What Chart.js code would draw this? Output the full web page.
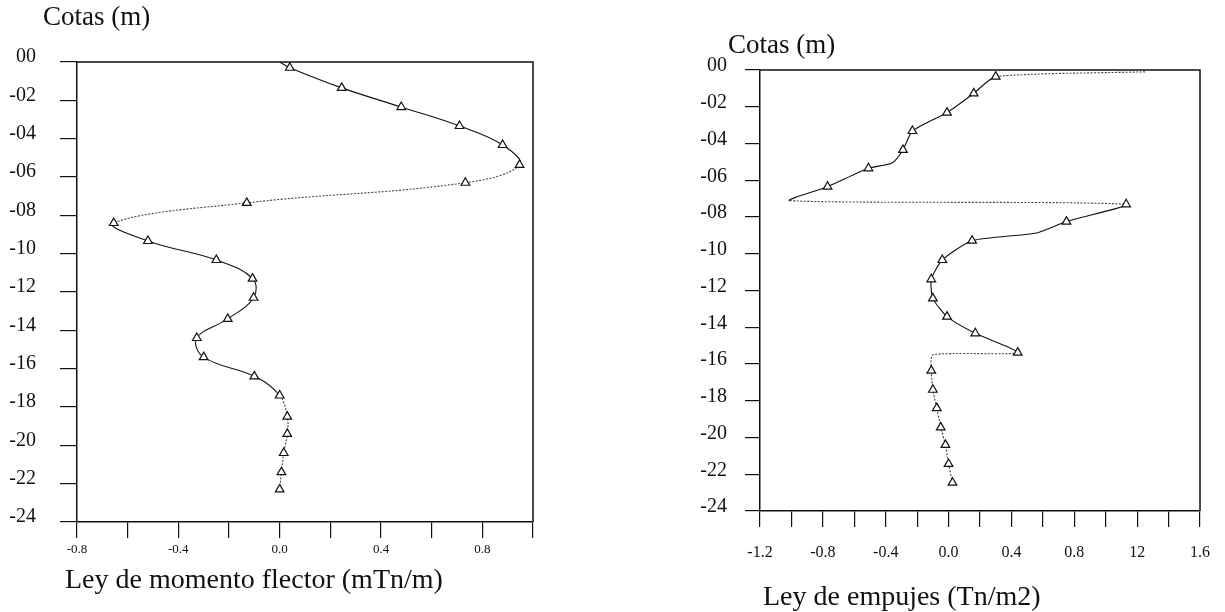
<!DOCTYPE html>
<html>
<head>
<meta charset="utf-8">
<script src="https://cdn.jsdelivr.net/npm/chart.js@4/dist/chart.umd.min.js"></script>
<style>
  html, body { margin: 0; padding: 0; background: #fff; }
  body { width: 1225px; height: 612px; position: relative; overflow: hidden; font-family: 'Liberation Serif', 'DejaVu Serif', serif; color: #111; }
  .box { position: absolute; top: 0; }
  .txt { position: absolute; white-space: nowrap; line-height: 1; color: #111; }
</style>
</head>
<body>
<div class="box" style="left:0;width:600px;height:612px"><canvas id="c1" width="600" height="612"></canvas></div>
<div class="box" style="left:600px;width:625px;height:612px"><canvas id="c2" width="625" height="612"></canvas></div>
<div class="txt" style="left:43px;top:3px;font-size:27px">Cotas (m)</div>
<div class="txt" style="left:65px;top:565px;font-size:28px">Ley de momento flector (mTn/m)</div>
<div class="txt" style="left:728px;top:31px;font-size:27px">Cotas (m)</div>
<div class="txt" style="left:763px;top:582px;font-size:28px">Ley de empujes (Tn/m2)</div>
<script>
// ---- Data: Ley de momento flector ----
const momentoValor = [0.0, 0.04, 0.245, 0.48, 0.71, 0.88, 0.947, 0.733, -0.13, -0.655, -0.52, -0.25, -0.107, -0.103, -0.205, -0.327, -0.30, -0.10, 0.0, 0.03, 0.03, 0.016, 0.007, 0.0];
const momentoCota  = [0, -0.3, -1.35, -2.35, -3.34, -4.33, -5.37, -6.3, -7.35, -8.4, -9.34, -10.33, -11.3, -12.3, -13.4, -14.4, -15.4, -16.4, -17.4, -18.5, -19.4, -20.4, -21.4, -22.3];
const momentoSinMarca = [0];

// ---- Data: Ley de empujes ----
const empujeValor = [1.25, 0.30, 0.16, -0.01, -0.23, -0.29, -0.36, -0.51, -0.77, -1.01, 1.13, 0.75, 0.56, 0.15, -0.04, -0.11, -0.10, -0.01, 0.17, 0.44, -0.10, -0.11, -0.10, -0.075, -0.05, -0.02, 0.0, 0.025];
const empujeCota  = [-0.1, -0.36, -1.27, -2.32, -3.32, -4.35, -5.06, -5.35, -6.35, -7.11, -7.31, -8.25, -8.87, -9.29, -10.34, -11.39, -12.43, -13.42, -14.33, -15.38, -15.5, -16.36, -17.4, -18.4, -19.45, -20.4, -21.44, -22.46];
const empujeSinMarca = [0, 6, 9, 12, 20];

// ---- Tick labels ----
const cotaTicks = [0, -2, -4, -6, -8, -10, -12, -14, -16, -18, -20, -22, -24];
const cotaTickLabels = ['00', '-02', '-04', '-06', '-08', '-10', '-12', '-14', '-16', '-18', '-20', '-22', '-24'];
const momentoXLabels = ['-0.8', '-0.4', '0.0', '0.4', '0.8'];
const empujeXLabels = ['-1.2', '-0.8', '-0.4', '0.0', '0.4', '0.8', '12', '1.6'];

// style: segments drawn dotted (by start index)
const momentoPunteado = [6, 7, 8, 18, 19, 20, 21, 22];
const empujePunteado = [0, 9, 19, 20, 21, 22, 23, 24, 25, 26];

const INK = '#111';
const FONT = "'Liberation Serif', 'DejaVu Serif', serif";

const framePlugin = {
  id: 'frame',
  beforeDatasetsDraw(chart) {
    const a = chart.chartArea, ctx = chart.ctx;
    ctx.save();
    ctx.strokeStyle = INK;
    ctx.lineWidth = 1.5;
    ctx.beginPath();
    ctx.moveTo(a.left, a.top);
    ctx.lineTo(a.right, a.top);
    ctx.lineTo(a.right, a.bottom);
    ctx.stroke();
    ctx.restore();
  }
};

function cotaLabel(v) {
  const i = cotaTicks.indexOf(Math.round(v));
  return i >= 0 ? cotaTickLabels[i] : '';
}

function makeChart(id, values, cotas, sinMarca, punteado, cfg) {
  const pts = values.map((v, i) => ({ x: v, y: cotas[i] }));
  return new Chart(document.getElementById(id), {
    type: 'scatter',
    data: {
      datasets: [{
        data: pts,
        showLine: true,
        borderColor: INK,
        borderWidth: 1.1,
        tension: cfg.tension,
        fill: false,
        clip: false,
        pointStyle: 'triangle',
        pointRadius: ctx => sinMarca.includes(ctx.dataIndex) ? 0 : 5,
        pointBorderColor: INK,
        pointBackgroundColor: '#fff',
        pointBorderWidth: 1.2,
        segment: {
          borderDash: ctx => punteado.includes(ctx.p0DataIndex) ? [2, 1.5] : undefined,
          borderColor: ctx => punteado.includes(ctx.p0DataIndex) ? '#444' : INK
        }
      }]
    },
    options: {
      responsive: false,
      animation: false,
      events: [],
      layout: { padding: cfg.padding },
      plugins: { legend: { display: false }, tooltip: { enabled: false }, title: { display: false } },
      scales: {
        x: {
          type: 'linear',
          position: 'bottom',
          min: cfg.xMin, max: cfg.xMax,
          border: { display: true, color: INK, width: 1.5 },
          grid: { display: true, drawOnChartArea: false, drawTicks: true, tickLength: cfg.xTickLen, color: INK, lineWidth: 1.2 },
          ticks: {
            stepSize: 0.2,
            autoSkip: false,
            maxRotation: 0,
            padding: cfg.xPad,
            color: INK,
            font: { family: FONT, size: cfg.xFont },
            callback: (v, i) => (i % 2 === 0 && cfg.xLabels[i / 2] !== undefined) ? cfg.xLabels[i / 2] : ''
          },
          afterFit: s => { s.height = cfg.xHeight; s.paddingLeft = 0; s.paddingRight = 0; }
        },
        y: {
          type: 'linear',
          position: 'left',
          min: -24, max: 0,
          border: { display: true, color: INK, width: 1.5 },
          grid: { display: true, drawOnChartArea: false, drawTicks: true, tickLength: cfg.yTickLen, color: INK, lineWidth: 1.2 },
          ticks: {
            stepSize: 2,
            autoSkip: false,
            padding: cfg.yPad,
            labelOffset: cfg.yLabelOffset,
            color: INK,
            font: { family: FONT, size: 20 },
            callback: v => cotaLabel(v)
          },
          afterFit: s => { s.width = cfg.yWidth; s.paddingTop = 0; s.paddingBottom = 0; }
        }
      }
    },
    plugins: [framePlugin]
  });
}

makeChart('c1', momentoValor, momentoCota, momentoSinMarca, momentoPunteado, {
  tension: 0.4,
  padding: { left: 0, top: 62, right: 67, bottom: 0 },
  xMin: -0.8, xMax: 1.0, xLabels: momentoXLabels,
  xTickLen: 16, xPad: 4, xFont: 13, xHeight: 90,
  yTickLen: 17, yPad: 24, yWidth: 77, yLabelOffset: -5
});

makeChart('c2', empujeValor, empujeCota, empujeSinMarca, empujePunteado, {
  tension: 0.2,
  padding: { left: 0, top: 70, right: 25, bottom: 0 },
  xMin: -1.2, xMax: 1.6, xLabels: empujeXLabels,
  xTickLen: 16, xPad: 16, xFont: 16, xHeight: 101,
  yTickLen: 15, yPad: 18, yWidth: 160, yLabelOffset: -4
});
</script>
</body>
</html>
